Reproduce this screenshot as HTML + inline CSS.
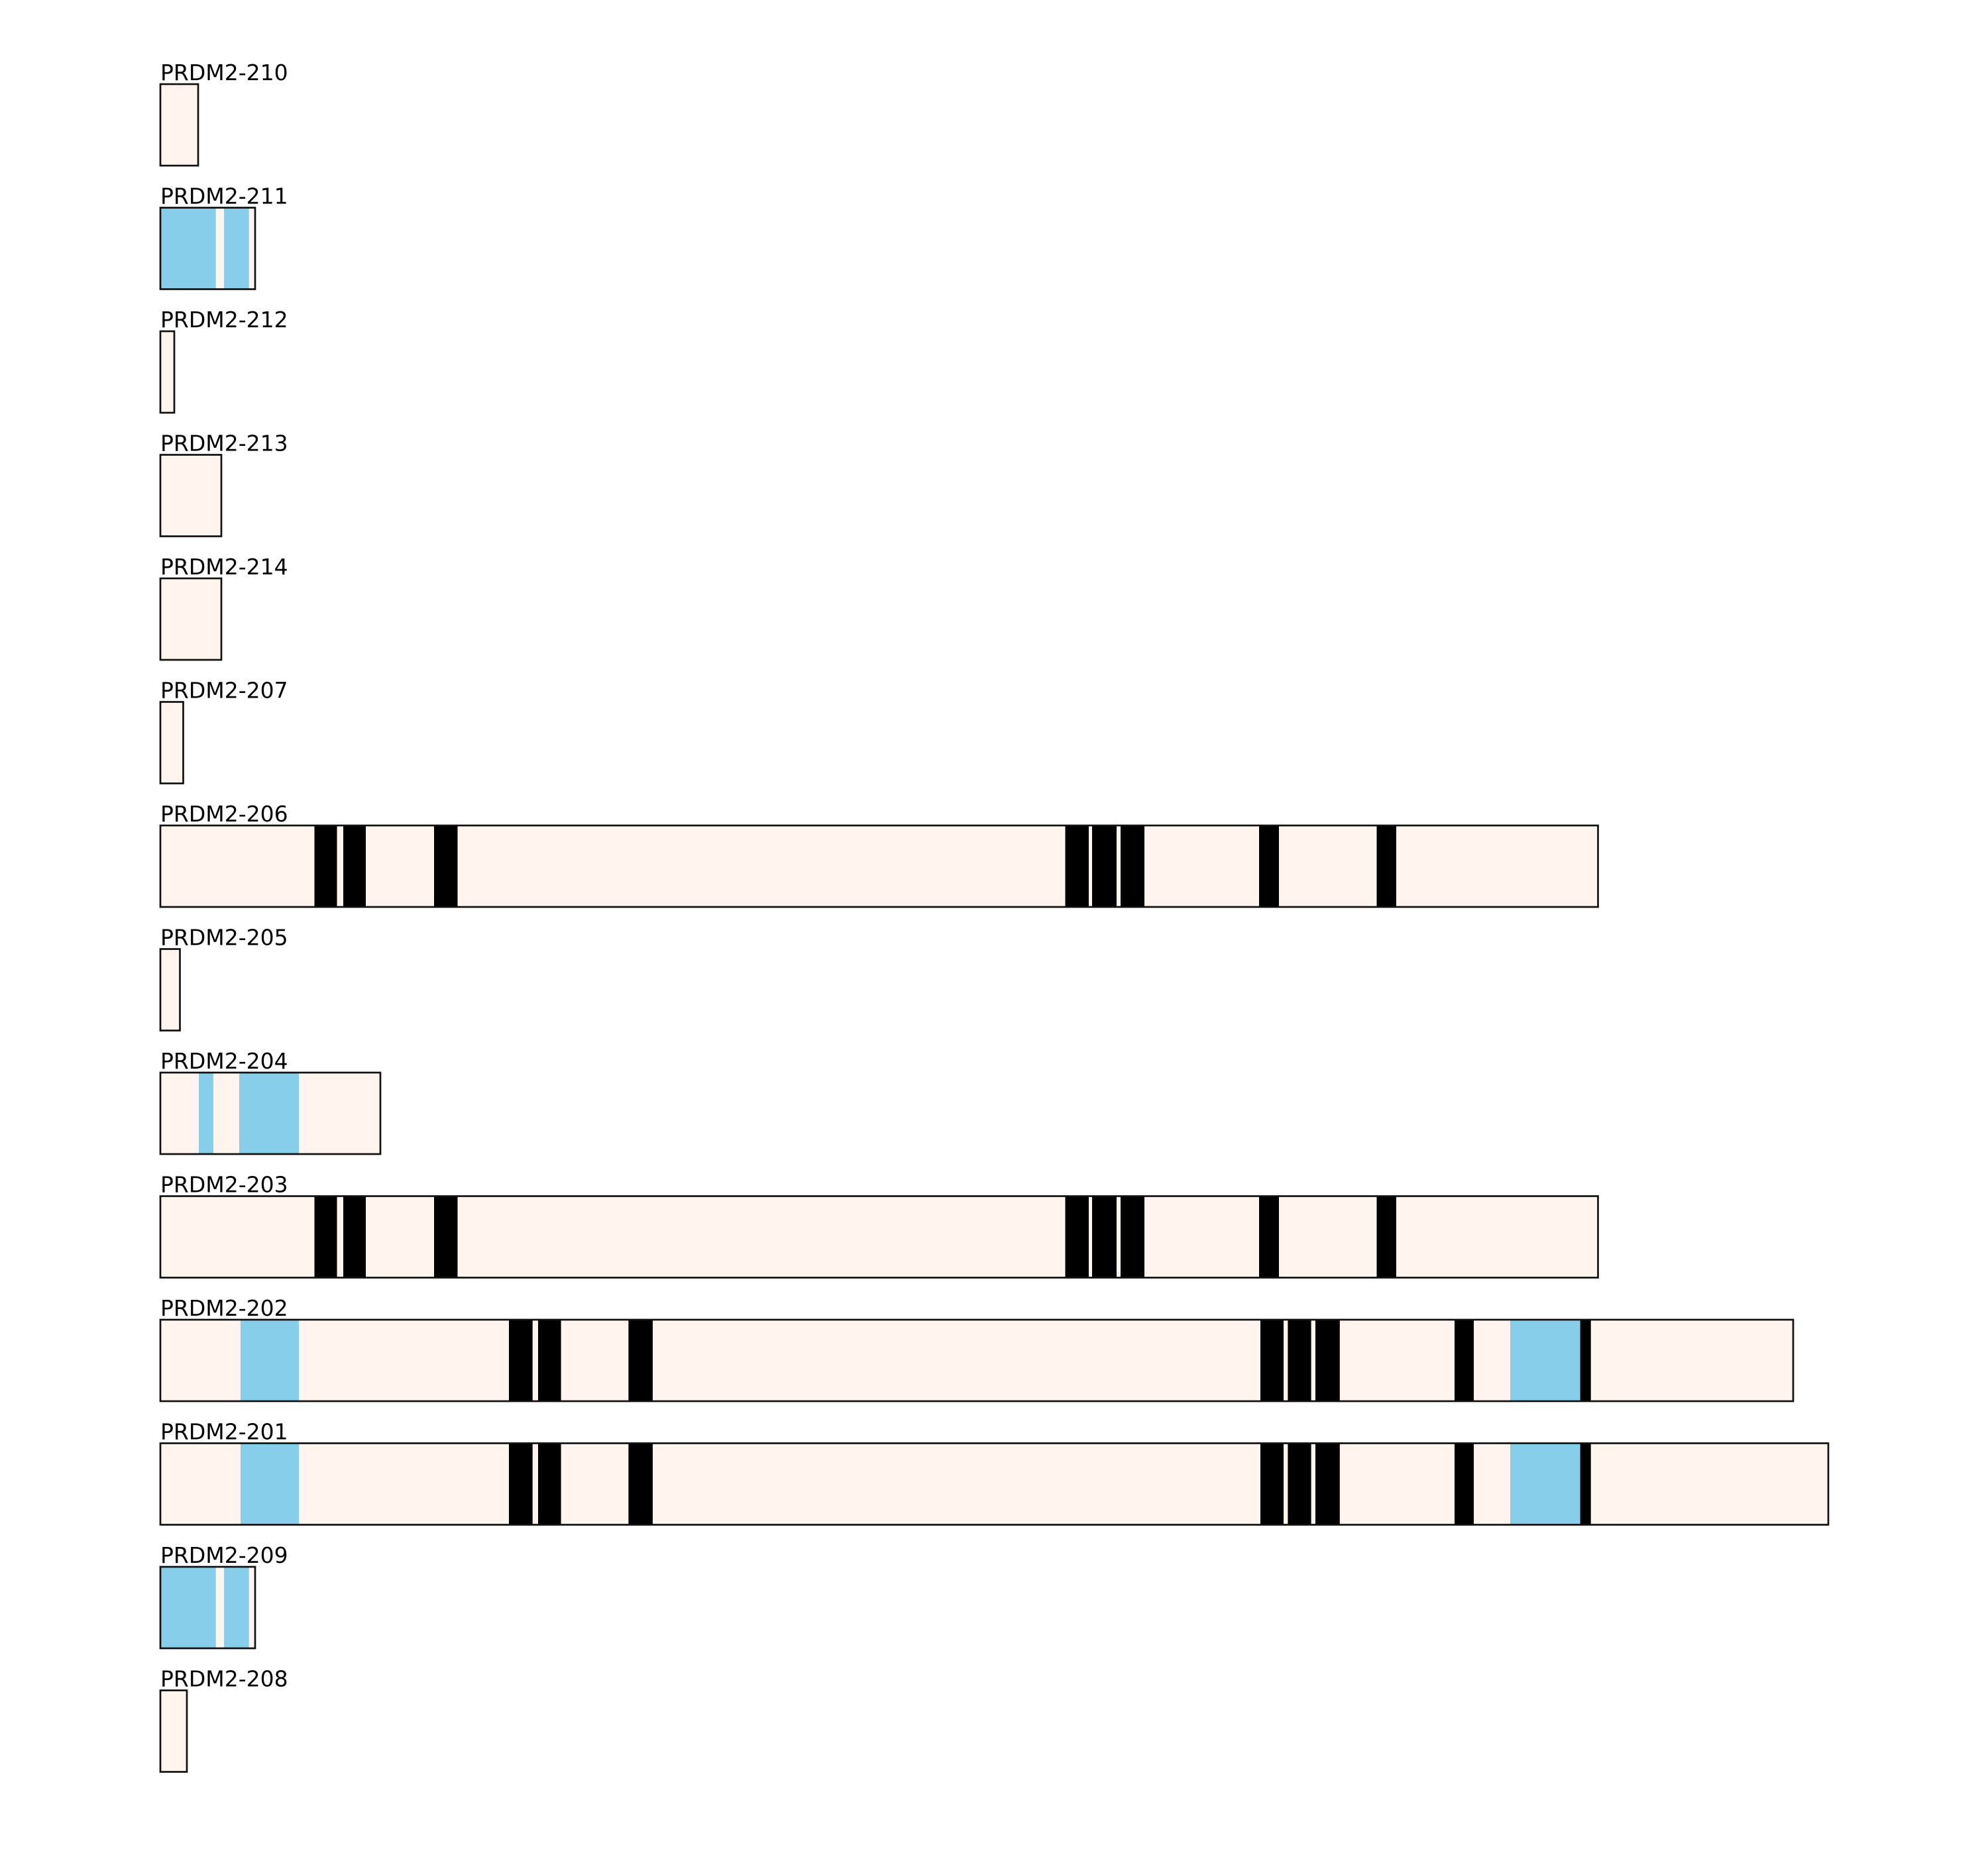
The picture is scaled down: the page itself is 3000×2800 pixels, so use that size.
<!DOCTYPE html>
<html><head><meta charset="utf-8"><style>
html,body{margin:0;padding:0;background:#fff;}
svg{display:block;}
text{font-family:"DejaVu Sans","Liberation Sans",sans-serif;font-size:33px;fill:#000;}
</style></head><body>
<svg width="3000" height="2800" viewBox="0 0 3000 2800" xmlns="http://www.w3.org/2000/svg">
<defs>
<g id="exons206">
<rect x="474.5" y="0" width="34" height="123" fill="#000"/>
<rect x="518" y="0" width="34" height="123" fill="#000"/>
<rect x="655" y="0" width="35.5" height="123" fill="#000"/>
<rect x="1607.5" y="0" width="35.5" height="123" fill="#000"/>
<rect x="1648" y="0" width="37" height="123" fill="#000"/>
<rect x="1691" y="0" width="36" height="123" fill="#000"/>
<rect x="1900" y="0" width="30" height="123" fill="#000"/>
<rect x="2077.5" y="0" width="29.5" height="123" fill="#000"/>
</g>
<g id="exons202">
<rect x="363" y="0" width="88" height="123" fill="#87CEEB"/>
<rect x="768" y="0" width="35.7" height="123" fill="#000"/>
<rect x="812" y="0" width="34.6" height="123" fill="#000"/>
<rect x="948.4" y="0" width="36.6" height="123" fill="#000"/>
<rect x="1902" y="0" width="35" height="123" fill="#000"/>
<rect x="1943.4" y="0" width="35.2" height="123" fill="#000"/>
<rect x="1985" y="0" width="36.8" height="123" fill="#000"/>
<rect x="2195" y="0" width="29" height="123" fill="#000"/>
<rect x="2279" y="0" width="105.6" height="123" fill="#87CEEB"/>
<rect x="2384.6" y="0" width="16.1" height="123" fill="#000"/>
</g>
<g id="exons211">
<rect x="242" y="0" width="83.7" height="123" fill="#87CEEB"/>
<rect x="338" y="0" width="37.7" height="123" fill="#87CEEB"/>
</g>
</defs>
<g stroke="#111" stroke-width="2.7">
<g transform="translate(0,127)"><rect x="242" y="0" width="57" height="123" fill="#FFF5EE"/></g>
<g transform="translate(0,313.5)"><rect x="242" y="0" width="143" height="123" fill="#FFF5EE" stroke="none"/><use href="#exons211" stroke="none"/><rect x="242" y="0" width="143" height="123" fill="none"/></g>
<g transform="translate(0,500)"><rect x="242" y="0" width="21" height="123" fill="#FFF5EE"/></g>
<g transform="translate(0,686.5)"><rect x="242" y="0" width="92" height="123" fill="#FFF5EE"/></g>
<g transform="translate(0,873)"><rect x="242" y="0" width="92" height="123" fill="#FFF5EE"/></g>
<g transform="translate(0,1059.5)"><rect x="242" y="0" width="34.5" height="123" fill="#FFF5EE"/></g>
<g transform="translate(0,1246)"><rect x="242" y="0" width="2169.5" height="123" fill="#FFF5EE" stroke="none"/><use href="#exons206" stroke="none"/><rect x="242" y="0" width="2169.5" height="123" fill="none"/></g>
<g transform="translate(0,1432.5)"><rect x="242" y="0" width="29.5" height="123" fill="#FFF5EE"/></g>
<g transform="translate(0,1619)"><rect x="242" y="0" width="332" height="123" fill="#FFF5EE" stroke="none"/>
<rect x="300" y="0" width="22" height="123" fill="#87CEEB" stroke="none"/>
<rect x="361" y="0" width="90" height="123" fill="#87CEEB" stroke="none"/>
<rect x="242" y="0" width="332" height="123" fill="none"/></g>
<g transform="translate(0,1805.5)"><rect x="242" y="0" width="2169.5" height="123" fill="#FFF5EE" stroke="none"/><use href="#exons206" stroke="none"/><rect x="242" y="0" width="2169.5" height="123" fill="none"/></g>
<g transform="translate(0,1992)"><rect x="242" y="0" width="2464" height="123" fill="#FFF5EE" stroke="none"/><use href="#exons202" stroke="none"/><rect x="242" y="0" width="2464" height="123" fill="none"/></g>
<g transform="translate(0,2178.5)"><rect x="242" y="0" width="2517" height="123" fill="#FFF5EE" stroke="none"/><use href="#exons202" stroke="none"/><rect x="242" y="0" width="2517" height="123" fill="none"/></g>
<g transform="translate(0,2365)"><rect x="242" y="0" width="143" height="123" fill="#FFF5EE" stroke="none"/><use href="#exons211" stroke="none"/><rect x="242" y="0" width="143" height="123" fill="none"/></g>
<g transform="translate(0,2551.5)"><rect x="242" y="0" width="40" height="123" fill="#FFF5EE"/></g>
</g>
<g>
<text x="242" y="121">PRDM2-210</text>
<text x="242" y="307.5">PRDM2-211</text>
<text x="242" y="494">PRDM2-212</text>
<text x="242" y="680.5">PRDM2-213</text>
<text x="242" y="867">PRDM2-214</text>
<text x="242" y="1053.5">PRDM2-207</text>
<text x="242" y="1240">PRDM2-206</text>
<text x="242" y="1426.5">PRDM2-205</text>
<text x="242" y="1613">PRDM2-204</text>
<text x="242" y="1799.5">PRDM2-203</text>
<text x="242" y="1986">PRDM2-202</text>
<text x="242" y="2172.5">PRDM2-201</text>
<text x="242" y="2359">PRDM2-209</text>
<text x="242" y="2545.5">PRDM2-208</text>
</g>
</svg>
</body></html>
